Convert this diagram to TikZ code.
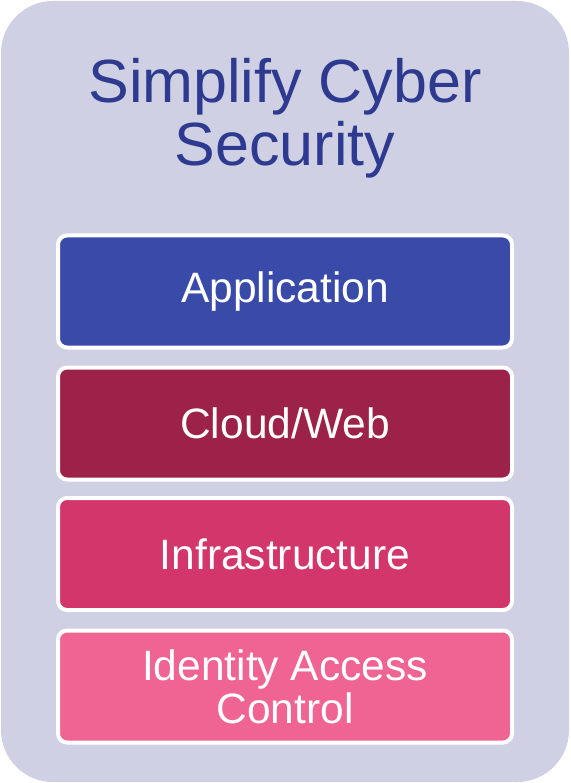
\documentclass[tikz,border=0pt]{standalone}
\usepackage{fontspec}
\setmainfont{Liberation Sans}
\usepackage{tikz}
\definecolor{panelbg}{HTML}{CFD0E3}
\definecolor{titleblue}{HTML}{2E3A8F}
\definecolor{appblue}{HTML}{3A4AA9}
\definecolor{cloudred}{HTML}{9D2249}
\definecolor{infrared}{HTML}{D3366A}
\definecolor{idpink}{HTML}{F06494}

\begin{document}
\begin{tikzpicture}[x=1pt,y=-1pt]
\useasboundingbox (0,0) rectangle (570,783);
\node[rectangle,fill=panelbg,rounded corners=52pt,
      minimum width=568pt,minimum height=781pt,inner sep=0pt] (panel) at (285,391.5) {};
\node[text=titleblue,align=center,font=\fontsize{61}{63}\selectfont] (title) at (285,118) {Simplify Cyber\\Security};
\begin{scope}[every node/.style={rectangle,draw=white,line width=4pt,
                rounded corners=9pt,minimum width=454pt,minimum height=112pt,
                text=white,align=center,font=\fontsize{42.5}{43}\selectfont}]
    \node[fill=appblue] (app) at (285,291.5) {Application};
    \node[fill=cloudred] (cloud) at (285,423.5) {Cloud/Web};
    \node[fill=infrared] (infra) at (285,554) {Infrastructure};
    \node[fill=idpink] (ident) at (285,686.5) {Identity Access\\Control};
\end{scope}
\end{tikzpicture}
\end{document}
